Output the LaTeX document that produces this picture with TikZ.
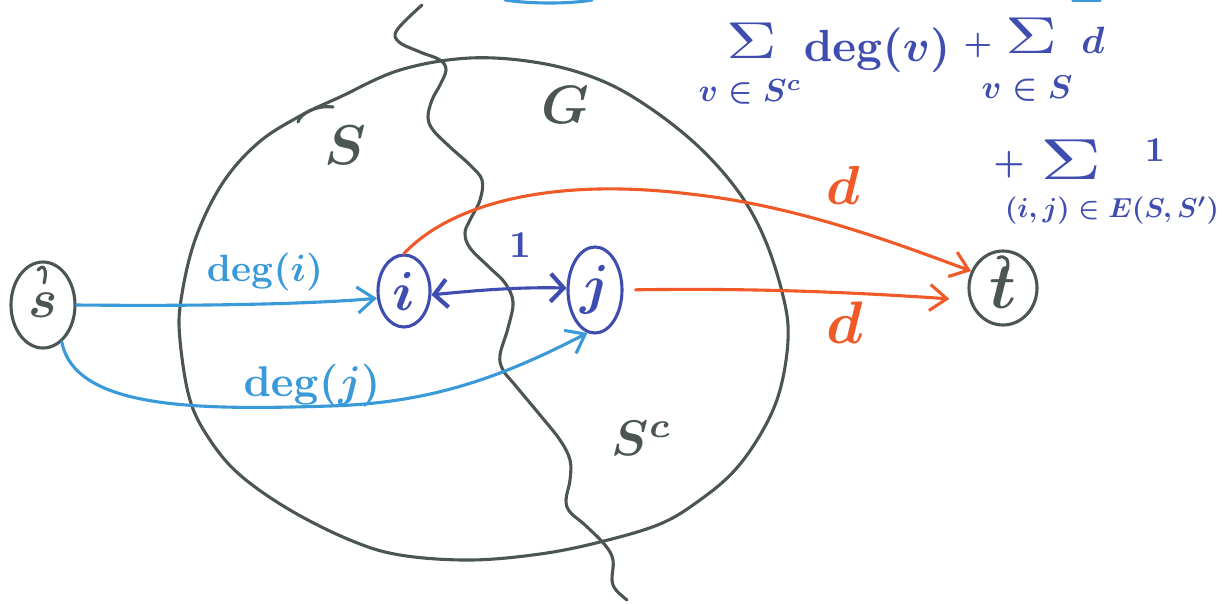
\documentclass[tikz,border=0pt]{standalone}
\usepackage{graphicx}
\usetikzlibrary{shapes.geometric,arrows.meta}
\definecolor{cgray}{HTML}{4B5552}
\definecolor{cblue}{HTML}{3A9AD9}
\definecolor{cindigo}{HTML}{3F4DB0}
\definecolor{corange}{HTML}{F05A28}
\tikzset{
  pen/.style={line width=3.1pt, line cap=round, line join=round},
  gline/.style={pen, draw=cgray},
  vtx/.style={ellipse, pen, inner sep=0pt},
  barb/.style={-{Straight Barb[length=17pt,width=26pt,line width=3.1pt]}},
  dbarb/.style={{Straight Barb[length=13pt,width=28pt,line width=4.2pt]}-{Straight Barb[length=13pt,width=28pt,line width=4.2pt]}},
  lbl/.style={inner sep=0pt, font=\boldmath},
  sig/.style={inner sep=0pt, font=\unboldmath},
}
\begin{document}
\begin{tikzpicture}[x=1pt,y=-1pt]
\fill[white] (0,0) rectangle (1222,603);
\useasboundingbox (0,0) rectangle (1222,603);

% graph G and the cut
\draw[gline] plot[smooth cycle, tension=0.6] coordinates {(470,58) (540,63) (600,80) (650,108) (700,148) (740,194) (766,242) (784,300) (788,340) (780,390) (763,430) (735,470) (700,500) (660,524) (600,542) (540,554) (470,560) (400,555) (350,540) (290,510) (240,475) (210,440) (190,400) (180,340) (181,300) (195,240) (222,184) (258,143) (300,116) (340,97) (400,70)};
\draw[gline] plot[smooth, tension=0.6] coordinates {(422,5) (397,30) (399,42) (420,52) (440,60) (446,70) (440,85) (432,100) (428,117) (433,130) (450,147) (470,165) (482,180) (480,200) (470,220) (465,233) (470,248) (490,268) (505,283) (513,302) (508,328) (500,355) (503,370) (515,385) (540,415) (560,440) (570,460) (570,480) (566,500) (570,512) (585,525) (605,545) (613,560) (612,580) (616,590) (627,600)};
\draw[gline] (298,122) .. controls (300,114) and (315,105) .. (333,107);

% remnants at the top edge
\draw[pen, draw=cblue] (505,0) .. controls (530,4) and (570,4) .. (592,0);
\draw[pen, draw=cblue] (1073,0) -- (1100,0);

% vertices
\node[vtx, draw=cgray, minimum width=64pt, minimum height=86pt] (s) at (43,305) {\color{cgray}\scalebox{5.5}{\boldmath$s$}};
\node[vtx, draw=cindigo, minimum width=52pt, minimum height=72pt] (i) at (404,291) {\color{cindigo}\scalebox{5.5}{\boldmath$i$}};
\node[vtx, draw=cindigo, minimum width=54pt, minimum height=86pt] (j) at (595,290) {\color{cindigo}\scalebox{5.5}{\boldmath$j$}};
\node[vtx, draw=cgray, minimum width=68pt, minimum height=74pt] (t) at (1003,288) {\color{cgray}\scalebox{6.5}{\boldmath$t$}};
\draw[gline] (38,270) .. controls (45,262) and (47,272) .. (44,283);
\draw[gline] (998,258) .. controls (1005,254) and (1010,260) .. (1007,270);

% region labels
\node[lbl, text=cgray] (lS) at (345,145) {\scalebox{5.6}{$S$}};
\node[lbl, text=cgray] (lG) at (565,105) {\scalebox{5.4}{$G$}};
\node[lbl, text=cgray] (lSc) at (642,438) {\scalebox{5}{$S^c$}};

% edges
\draw[pen, draw=cblue, barb] (s.east) .. controls (180,306) and (300,305) .. (i.195);
\draw[pen, draw=cblue, barb] (s.-63) .. controls (75,410) and (200,410) .. (330,406) .. controls (430,403) and (500,378) .. (j.-100);
\draw[pen, draw=cindigo, dbarb] (i.-8) .. controls (480,290) and (520,287) .. (j.176);
\draw[pen, draw=corange, barb] (i.north) .. controls (455,200) and (560,178) .. (690,194) .. controls (800,206) and (900,245) .. (t.152);
\draw[pen, draw=corange, barb, shorten <=12pt, shorten >=20pt] (j.east) .. controls (750,288) and (850,292) .. (t.200);

% edge labels
\node[lbl, text=cblue] (ldi) at (265,272) {\scalebox{3.8}{$\deg(i)$}};
\node[lbl, text=cblue] (ldj) at (312,386) {\scalebox{4.3}{$\deg(j)$}};
\node[lbl, text=cindigo] (l1) at (520,245) {\scalebox{3.8}{$1$}};
\node[lbl, text=corange] (ld1) at (843,185) {\scalebox{5.5}{$d$}};
\node[lbl, text=corange] (ld2) at (845,323) {\scalebox{6}{$d$}};

% cut value
\begin{scope}[every node/.style={lbl, text=cindigo}]
\node[sig] (sum1) at (752,41) {\scalebox{7}[5.2]{$\Sigma$}};
\node (sub1) at (750,92) {\scalebox{3.2}{$v\in S^c$}};
\node (degv) at (877,50) {\scalebox{4.5}{$\deg(v)$}};
\node (plus1) at (978,45) {\scalebox{3.2}{$+$}};
\node[sig] (sum2) at (1031,36) {\scalebox{7.2}[5.2]{$\Sigma$}};
\node (sub2) at (1027,89) {\scalebox{3.3}{$v\in S$}};
\node (dd) at (1093,40) {\scalebox{3.8}{$d$}};
\node (plus2) at (1009,165) {\scalebox{3.5}{$+$}};
\node[sig] (sum3) at (1071,160) {\scalebox{8.5}[5.8]{$\Sigma$}};
\node (one) at (1155,150) {\scalebox{3.5}{$1$}};
\node (sub3) at (1112,211) {\scalebox{2.75}{$(i,j)\in E(S,S')$}};
\end{scope}
\end{tikzpicture}
\end{document}
